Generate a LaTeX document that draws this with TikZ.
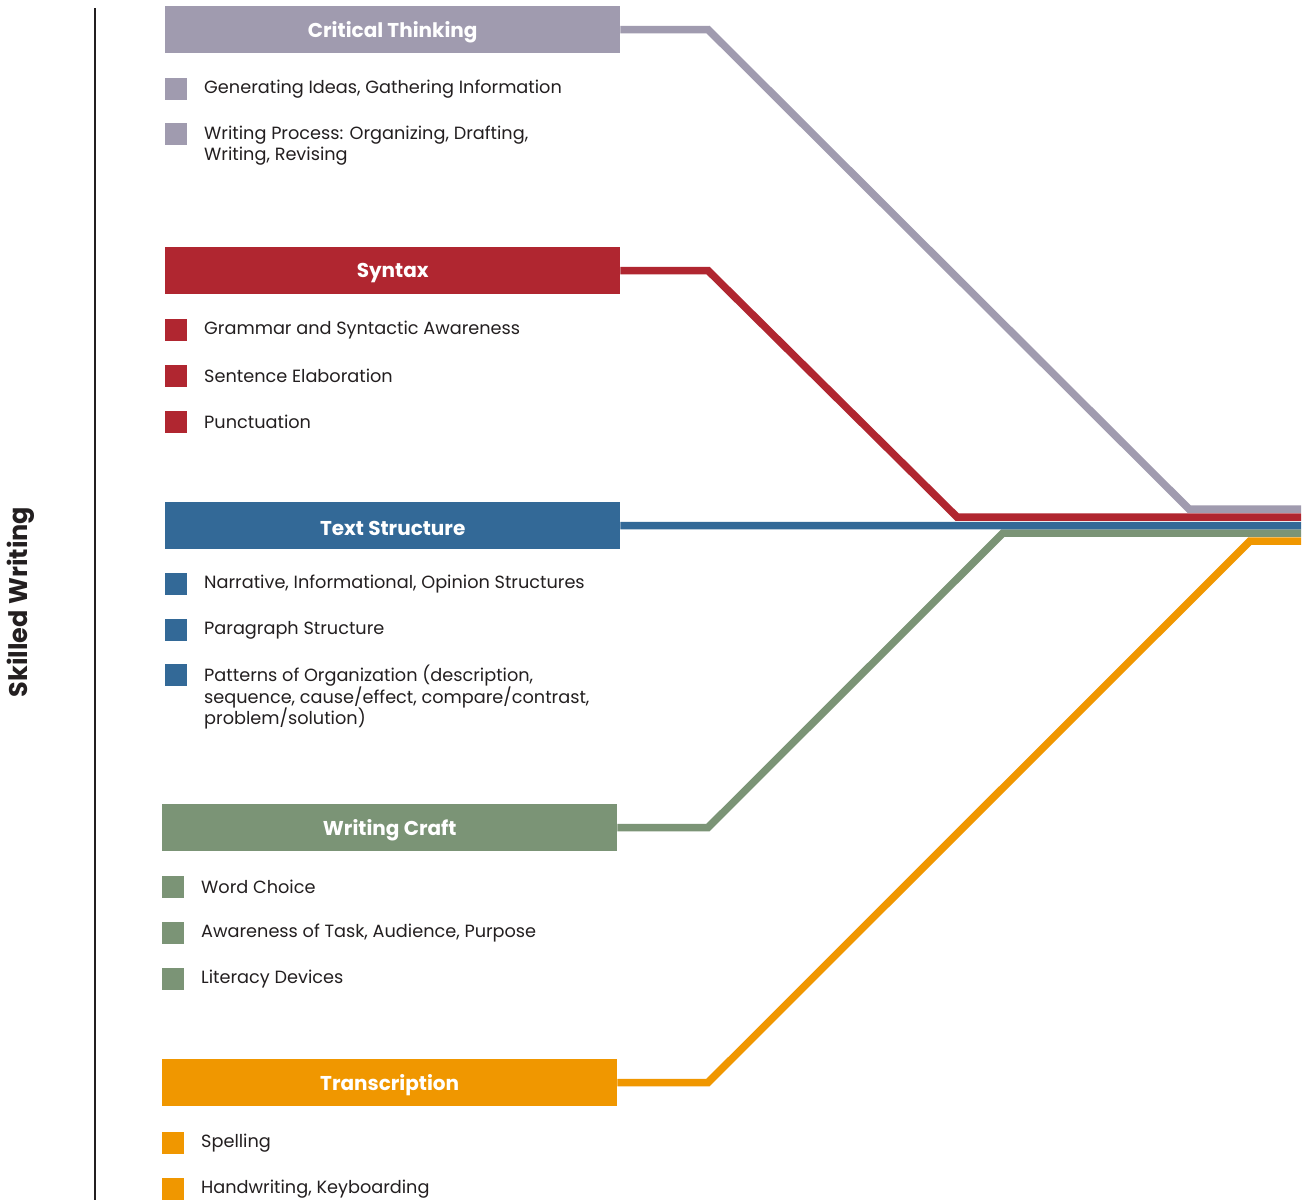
\documentclass[tikz,border=0pt]{standalone}
\usepackage{fontspec}
\setmainfont{Poppins}
\definecolor{cgray}{HTML}{A09BAF}
\definecolor{cred}{HTML}{B02630}
\definecolor{cblue}{HTML}{336997}
\definecolor{cgreen}{HTML}{7B9476}
\definecolor{corange}{HTML}{F09700}
\definecolor{ctext}{HTML}{231F20}
\begin{document}
\begin{tikzpicture}[x=1pt,y=-1pt,
  header/.style={fill=#1, draw=none, anchor=north west, minimum width=455pt, minimum height=47pt, inner sep=0pt},
  htext/.style={inner sep=0pt, text=white, font=\fontsize{20}{22}\selectfont\bfseries},
  bullet/.style={fill=#1, draw=none, anchor=north west, minimum width=22pt, minimum height=22pt, inner sep=0pt},
  item/.style={anchor=west, inner sep=0pt, text=ctext, align=left, font=\fontsize{17.7}{21.3}\selectfont},
  conn/.style={draw=#1, line width=7.5pt, line join=miter}]
\useasboundingbox (0,0) rectangle (1305,1200);
\fill[white] (0,0) rectangle (1305,1200);

% axis
\coordinate (axtop) at (95,8);
\coordinate (axbot) at (95,1200);
\draw[ctext, line width=2.6pt] (axtop) -- (axbot);
\node[rotate=90, text=ctext, font=\fontsize{25.5}{28}\selectfont\bfseries] (sw) at (21,602) {Skilled Writing};

% headers
\node[header=cgray] (ct) at (165,6) {};
\node[header=cred] (sy) at (165,247) {};
\node[header=cblue] (ts) at (165,502) {};
\node[header=cgreen] (wc) at (162,804) {};
\node[header=corange] (tr) at (162,1059) {};
\node[htext] (ctl) at ([yshift=-2.5pt]ct.center) {Critical Thinking};
\node[htext] (syl) at ([yshift=-2.5pt]sy.center) {Syntax};
\node[htext] (tsl) at ([yshift=-2.5pt]ts.center) {Text Structure};
\node[htext] (wcl) at ([yshift=-2.5pt]wc.center) {Writing Craft};
\node[htext] (trl) at ([yshift=-2.5pt]tr.center) {Transcription};

% waypoints
\coordinate (ct1) at (708,29.5);
\coordinate (ct2) at (1189,509);
\coordinate (ct3) at (1301,509);
\coordinate (sy1) at (708,270.5);
\coordinate (sy2) at (957,517);
\coordinate (sy3) at (1301,517);
\coordinate (ts3) at (1301,525.5);
\coordinate (wc1) at (708,827.5);
\coordinate (wc2) at (1003,533);
\coordinate (wc3) at (1301,533);
\coordinate (tr1) at (708,1082.5);
\coordinate (tr2) at (1250,541);
\coordinate (tr3) at (1301,541);

\draw[conn=corange] (tr.east) -- (tr1) -- (tr2) -- (tr3);
\draw[conn=cgreen] (wc.east) -- (wc1) -- (wc2) -- (wc3);
\draw[conn=cblue] (ts.east) -- (ts3);
\draw[conn=cgray] (ct.east) -- (ct1) -- (ct2) -- (ct3);
\draw[conn=cred] (sy.east) -- (sy1) -- (sy2) -- (sy3);

% Critical Thinking items
\node[bullet=cgray] (ctb1) at (165,78) {};
\node[item] (ctt1) at (204,89.5) {Generating Ideas, Gathering Information};
\node[bullet=cgray] (ctb2) at (165,123) {};
\node[item, anchor=north west] (ctt2) at (204,125.5) {Writing Process: Organizing, Drafting,\\Writing, Revising};

% Syntax items
\node[bullet=cred] (syb1) at (165,319) {};
\node[item] (syt1) at (204,330) {Grammar and Syntactic Awareness};
\node[bullet=cred] (syb2) at (165,365) {};
\node[item] (syt2) at (204,375.5) {Sentence Elaboration};
\node[bullet=cred] (syb3) at (165,411) {};
\node[item] (syt3) at (204,421.5) {Punctuation};

% Text Structure items
\node[bullet=cblue] (tsb1) at (165,573) {};
\node[item] (tst1) at (204,584) {Narrative, Informational, Opinion Structures};
\node[bullet=cblue] (tsb2) at (165,619) {};
\node[item] (tst2) at (204,630) {Paragraph Structure};
\node[bullet=cblue] (tsb3) at (165,664) {};
\node[item, anchor=north west] (tst3) at (204,664.5) {Patterns of Organization (description,\\sequence, cause/effect, compare/contrast,\\problem/solution)};

% Writing Craft items
\node[bullet=cgreen] (wcb1) at (162,876) {};
\node[item] (wct1) at (201,887) {Word Choice};
\node[bullet=cgreen] (wcb2) at (162,922) {};
\node[item] (wct2) at (201,933) {Awareness of Task, Audience, Purpose};
\node[bullet=cgreen] (wcb3) at (162,968) {};
\node[item] (wct3) at (201,979) {Literacy Devices};

% Transcription items
\node[bullet=corange] (trb1) at (162,1132) {};
\node[item] (trt1) at (201,1143) {Spelling};
\node[bullet=corange] (trb2) at (162,1178) {};
\node[item] (trt2) at (201,1189) {Handwriting, Keyboarding};
\end{tikzpicture}
\end{document}
